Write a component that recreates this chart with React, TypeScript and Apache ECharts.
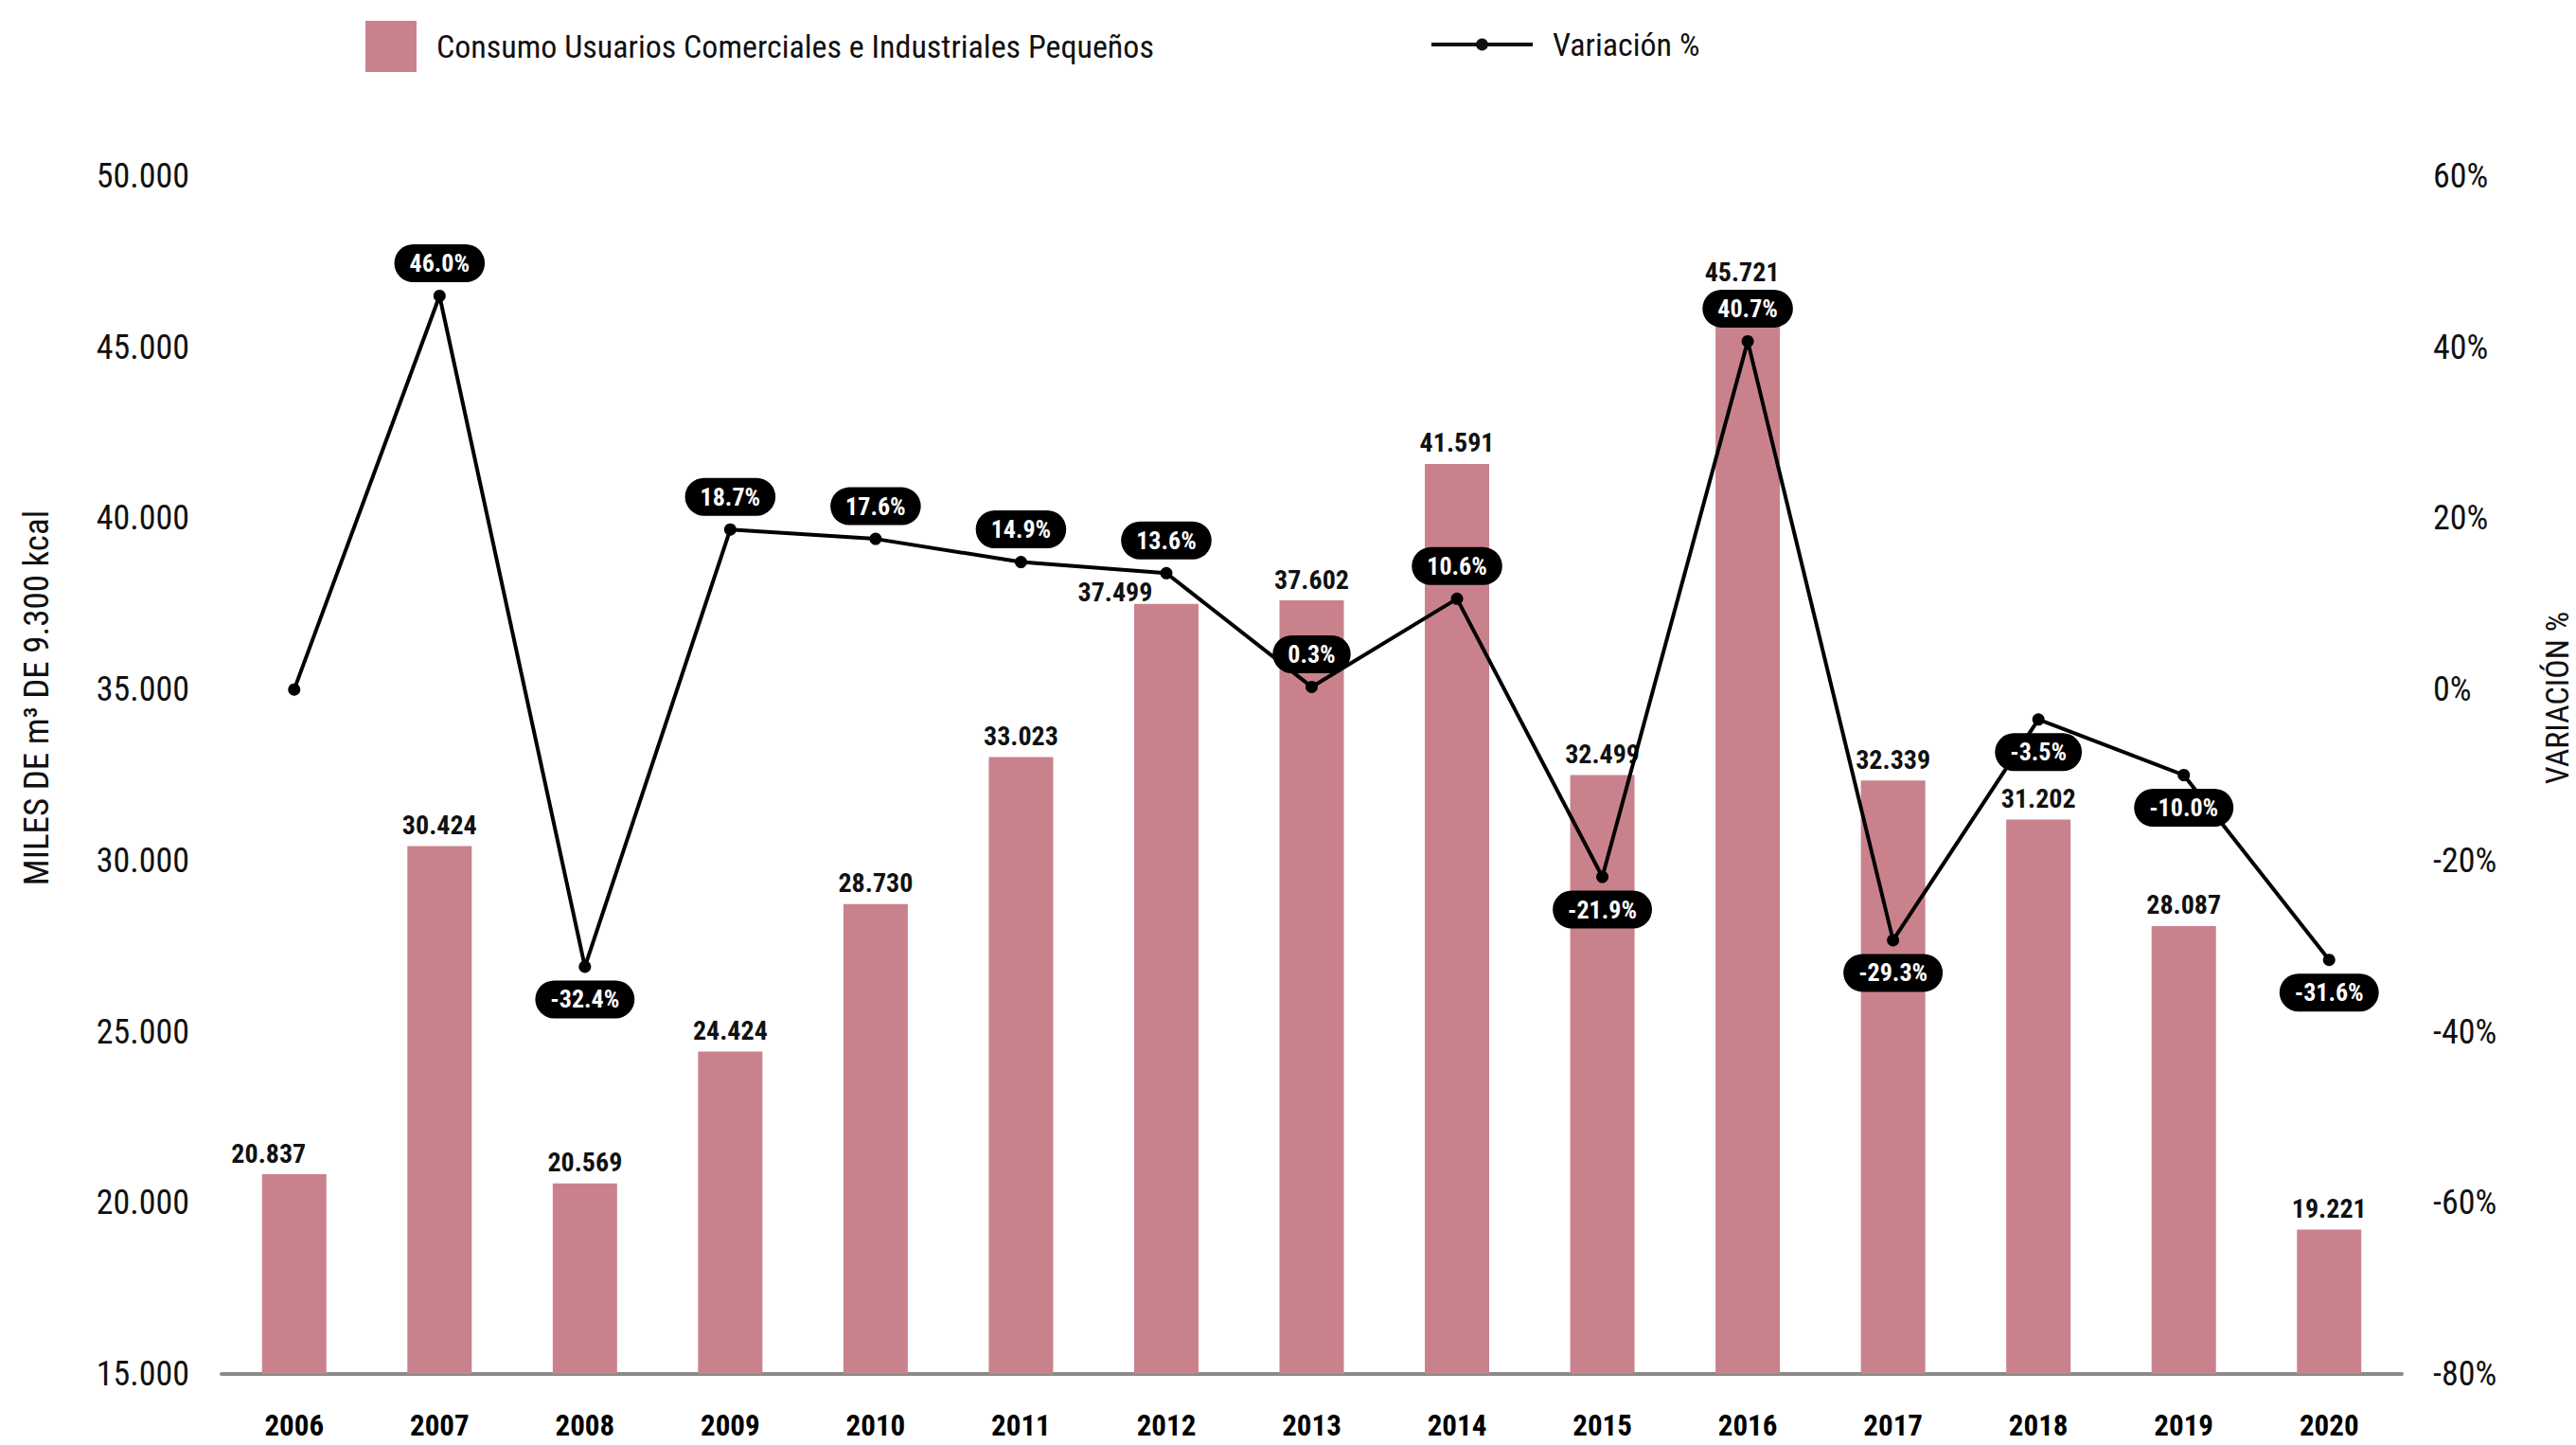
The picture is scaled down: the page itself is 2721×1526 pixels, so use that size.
import React, { useEffect, useRef } from "react";
import * as echarts from "echarts";

const years = ["2006", "2007", "2008", "2009", "2010", "2011", "2012", "2013", "2014", "2015", "2016", "2017", "2018", "2019", "2020"];
const consumo = [20837, 30424, 20569, 24424, 28730, 33023, 37499, 37602, 41591, 32499, 45721, 32339, 31202, 28087, 19221];
const variacion = [0, 46.0, -32.4, 18.7, 17.6, 14.9, 13.6, 0.3, 10.6, -21.9, 40.7, -29.3, -3.5, -10.0, -31.6];
const variacionLabelPos = ["none", "top", "bottom", "top", "top", "top", "top", "top", "top", "bottom", "top", "bottom", "bottom", "bottom", "bottom"];
const barLabelShift: Record<string, number[]> = { "2006": [-27, 0], "2012": [-54, 10], "2016": [-6, -31] };

const barName = "Consumo Usuarios Comerciales e Industriales Pequeños";
const lineName = "Variación %";
const leftAxisName = "MILES DE m³ DE 9.300 kcal";
const rightAxisName = "VARIACIÓN %";

const FONT = "'Roboto Condensed', 'Liberation Sans Narrow', 'DejaVu Sans Condensed', 'Arial Narrow', Roboto, sans-serif";
const BAR_COLOR = "#C9828C";

const fmtThousands = (v: number) => String(Math.round(v)).replace(/\B(?=(\d{3})+(?!\d))/g, ".");

export default function App() {
  const ref = useRef<HTMLDivElement>(null);
  useEffect(() => {
    if (!ref.current) return;
    const chart = echarts.init(ref.current, null, { renderer: "svg" });
    const barData = consumo.map((v, i) => {
      const shift = barLabelShift[years[i]];
      return shift ? { value: v, label: { offset: shift } } : { value: v };
    });
    const lineData = variacion.map((v, i) => {
      const pos = variacionLabelPos[i];
      if (pos === "none") return { value: v, label: { show: false } };
      return { value: v, label: { show: true, position: pos } };
    });
    chart.setOption({
      animation: false,
      backgroundColor: "#ffffff",
      textStyle: { fontFamily: FONT },
      grid: { left: 234, right: 184, top: 186, bottom: 75, containLabel: false },
      legend: [
        {
          data: [{ name: barName, icon: "rect" }],
          left: 381,
          top: 17,
          itemWidth: 54,
          itemHeight: 54,
          textStyle: { fontFamily: FONT, fontSize: 34, color: "#111", padding: [0, 0, 0, 16] },
        },
        {
          data: [lineName],
          left: 1505,
          top: 25,
          itemWidth: 107,
          itemHeight: 16,
          lineStyle: { width: 4, color: "#111" },
          itemStyle: { color: "#111" },
          textStyle: { fontFamily: FONT, fontSize: 34, color: "#111", padding: [0, 0, 0, 16] },
        },
      ],
      xAxis: {
        type: "category",
        data: years,
        boundaryGap: true,
        axisLine: { show: true, onZero: false, lineStyle: { color: "#8a8a8a", width: 4 } },
        axisTick: { show: false },
        axisLabel: { fontFamily: FONT, fontSize: 31, fontWeight: "bold", color: "#000", margin: 39 },
        splitLine: { show: false },
      },
      yAxis: [
        {
          type: "value",
          min: 15000,
          max: 50000,
          interval: 5000,
          axisLine: { show: false },
          axisTick: { show: false },
          splitLine: { show: false },
          axisLabel: { fontFamily: FONT, fontSize: 36, color: "#111", margin: 34, formatter: (v: number) => fmtThousands(v) },
        },
        {
          type: "value",
          min: -80,
          max: 60,
          interval: 20,
          axisLine: { show: false },
          axisTick: { show: false },
          splitLine: { show: false },
          axisLabel: { fontFamily: FONT, fontSize: 36, color: "#111", margin: 33, formatter: "{value}%" },
        },
      ],
      graphic: [
        {
          type: "text",
          x: 38,
          y: 737,
          rotation: Math.PI / 2,
          style: { text: leftAxisName, fontFamily: FONT, fontSize: 37, fill: "#111", align: "center", verticalAlign: "middle" },
        },
        {
          type: "text",
          x: 2701,
          y: 737,
          rotation: Math.PI / 2,
          style: { text: rightAxisName, fontFamily: FONT, fontSize: 34, fill: "#111", align: "center", verticalAlign: "middle" },
        },
      ],
      series: [
        {
          name: barName,
          type: "bar",
          data: barData,
          barWidth: 68,
          itemStyle: { color: BAR_COLOR },
          label: {
            show: true,
            position: "top",
            distance: 8,
            fontFamily: FONT,
            fontSize: 28,
            fontWeight: "bold",
            color: "#111",
            formatter: (p: any) => fmtThousands(p.value),
          },
          z: 2,
        },
        {
          name: lineName,
          type: "line",
          yAxisIndex: 1,
          data: lineData,
          symbol: "circle",
          symbolSize: 13,
          color: "#000",
          itemStyle: { color: "#000" },
          lineStyle: { color: "#000", width: 4 },
          label: {
            show: true,
            distance: 8,
            fontFamily: FONT,
            fontSize: 26,
            fontWeight: "bold",
            color: "#fff",
            backgroundColor: "#000",
            borderRadius: 20,
            padding: [7, 16],
            formatter: (p: any) => Number(p.value).toFixed(1) + "%",
          },
          z: 5,
        },
      ],
    });
    return () => chart.dispose();
  }, []);
  return <div ref={ref} style={{ position: "absolute", left: 0, top: 0, width: 2721, height: 1526 }} />;
}
